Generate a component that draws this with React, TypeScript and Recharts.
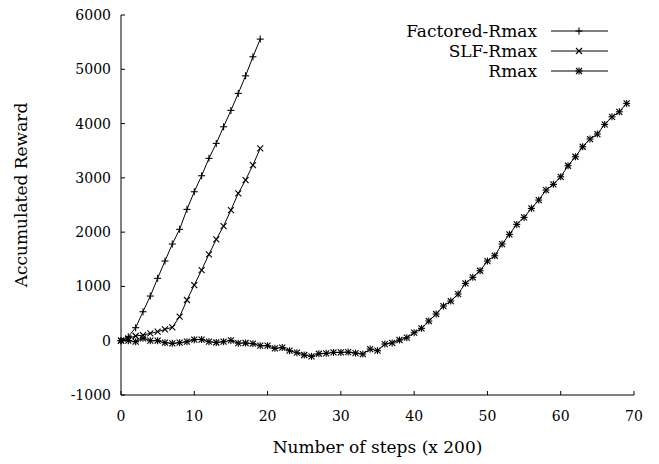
import React from "react";
import { Legend, Line, LineChart, XAxis, YAxis } from "recharts";

const FONT = "'DejaVu Serif', serif";

// accumulated reward per 200-step block
const factoredRmax = [
  0, 74, 240, 534, 823, 1149, 1468, 1781, 2052, 2420, 2744, 3039, 3359, 3635,
  3941, 4243, 4556, 4880, 5230, 5556,
];
const slfRmax = [
  0, 44, 87, 105, 136, 166, 210, 247, 442, 750, 1026, 1302, 1591, 1867, 2112,
  2407, 2714, 2960, 3236, 3543,
];
const rmax = [
  0, 0, -18, 44, 0, 0, -37, -48, -37, -18, 20, 22, -18, -33, -18, 5, -45, -42,
  -55, -92, -92, -141, -126, -184, -221, -263, -288, -240, -233, -215, -215,
  -210, -227, -245, -153, -184, -61, -40, 13, 55, 147, 228, 363, 492, 639, 731,
  860, 1057, 1168, 1289, 1468, 1565, 1781, 1959, 2143, 2272, 2438, 2591, 2775,
  2880, 3020, 3223, 3389, 3573, 3715, 3807, 3985, 4125, 4217, 4372,
];

const xTicks = [0, 10, 20, 30, 40, 50, 60, 70];
const yTicks = [-1000, 0, 1000, 2000, 3000, 4000, 5000, 6000];

const data = rmax.map((r, i) => ({
  step: i,
  factored: factoredRmax[i],
  slf: slfRmax[i],
  rmax: r,
}));

type Kind = "plus" | "cross" | "star";

const Marker = ({ kind, cx, cy }: { kind: Kind; cx: number; cy: number }) => {
  const s = 3;
  const plus = (
    <>
      <line x1={cx - s - 0.5} x2={cx + s + 0.5} y1={cy} y2={cy} />
      <line x1={cx} x2={cx} y1={cy - s - 0.5} y2={cy + s + 0.5} />
    </>
  );
  const cross = (
    <>
      <line x1={cx - s} x2={cx + s} y1={cy - s} y2={cy + s} />
      <line x1={cx - s} x2={cx + s} y1={cy + s} y2={cy - s} />
    </>
  );
  return (
    <g stroke="#000" strokeWidth={1.1}>
      {kind !== "cross" && plus}
      {kind !== "plus" && cross}
    </g>
  );
};

const dotFor = (kind: Kind) => (props: any) => {
  const { cx, cy, index } = props;
  if (cx == null || cy == null || isNaN(cy)) return <g key={index} />;
  return (
    <g key={index}>
      <Marker kind={kind} cx={cx} cy={cy} />
    </g>
  );
};

const BottomTick = ({ x, y, payload }: any) => (
  <g>
    <line x1={x} x2={x} y1={y} y2={y - 4} stroke="#000" />
    <text x={x} y={y + 26} textAnchor="middle" fontSize={14} fontFamily={FONT} fill="#000">
      {payload.value}
    </text>
  </g>
);

const TopTick = ({ x, y }: any) => (
  <line x1={x} x2={x} y1={y} y2={y + 4} stroke="#000" />
);

const LeftTick = ({ x, y, payload }: any) => (
  <g>
    <line x1={x} x2={x + 4} y1={y} y2={y} stroke="#000" />
    <text x={x - 10} y={y + 5} textAnchor="end" fontSize={14} fontFamily={FONT} fill="#000">
      {payload.value}
    </text>
  </g>
);

const RightTick = ({ x, y }: any) => (
  <line x1={x - 4} x2={x} y1={y} y2={y} stroke="#000" />
);

const YTitle = (props: any) => {
  const { x, y, height } = props.viewBox;
  const cx = x + 21;
  const cy = y + height / 2 - 10;
  return (
    <text
      x={cx}
      y={cy}
      transform={`rotate(-90 ${cx} ${cy})`}
      textAnchor="middle"
      dominantBaseline="central"
      fontSize={17}
      fontFamily={FONT}
      fill="#000"
    >
      Accumulated Reward
    </text>
  );
};

const XTitle = (props: any) => {
  const { x, y, width } = props.viewBox;
  return (
    <text x={x + width / 2} y={y + 58} textAnchor="middle" fontSize={17} fontFamily={FONT} fill="#000">
      Number of steps (x 200)
    </text>
  );
};

const legendItems: { name: string; kind: Kind }[] = [
  { name: "Factored-Rmax", kind: "plus" },
  { name: "SLF-Rmax", kind: "cross" },
  { name: "Rmax", kind: "star" },
];

const renderLegend = () => (
  <svg width={300} height={74}>
    {legendItems.map((item, i) => {
      const cy = 12 + i * 20;
      return (
        <g key={item.name}>
          <text x={207} y={cy + 6} textAnchor="end" fontSize={17} fontFamily={FONT} fill="#000">
            {item.name}
          </text>
          <line x1={221} x2={278} y1={cy} y2={cy} stroke="#000" />
          <Marker kind={item.kind} cx={249} cy={cy} />
        </g>
      );
    })}
  </svg>
);

export default function App() {
  return (
    <div style={{ position: "absolute", left: 0, top: 0, background: "#fff" }}>
      <LineChart
        width={659}
        height={464}
        data={data}
        margin={{ top: 15, right: 25, bottom: 0, left: 0 }}
      >
        <XAxis
          dataKey="step"
          type="number"
          domain={[0, 70]}
          ticks={xTicks}
          interval={0}
          height={69}
          tickSize={0}
          tickMargin={0}
          tickLine={false}
          axisLine={{ stroke: "#000" }}
          tick={BottomTick}
          label={XTitle}
        />
        <XAxis
          xAxisId="top"
          orientation="top"
          dataKey="step"
          type="number"
          domain={[0, 70]}
          ticks={xTicks}
          interval={0}
          height={0}
          tickSize={0}
          tickMargin={0}
          tickLine={false}
          axisLine={{ stroke: "#000" }}
          tick={TopTick}
        />
        <YAxis
          type="number"
          domain={[-1000, 6000]}
          ticks={yTicks}
          interval={0}
          width={121}
          tickSize={0}
          tickMargin={0}
          tickLine={false}
          axisLine={{ stroke: "#000" }}
          tick={LeftTick}
          label={YTitle}
        />
        <YAxis
          yAxisId="right"
          orientation="right"
          type="number"
          domain={[-1000, 6000]}
          ticks={yTicks}
          interval={0}
          width={0}
          tickSize={0}
          tickMargin={0}
          tickLine={false}
          axisLine={{ stroke: "#000" }}
          tick={RightTick}
        />
        <Legend
          layout="vertical"
          align="center"
          verticalAlign="middle"
          content={renderLegend}
          wrapperStyle={{ top: 19, left: 330, width: 300, height: 74 }}
        />
        <Line
          dataKey="factored"
          name="Factored-Rmax"
          stroke="#000"
          strokeWidth={1}
          dot={dotFor("plus")}
          activeDot={false}
          isAnimationActive={false}
        />
        <Line
          dataKey="slf"
          name="SLF-Rmax"
          stroke="#000"
          strokeWidth={1}
          dot={dotFor("cross")}
          activeDot={false}
          isAnimationActive={false}
        />
        <Line
          dataKey="rmax"
          name="Rmax"
          stroke="#000"
          strokeWidth={1}
          dot={dotFor("star")}
          activeDot={false}
          isAnimationActive={false}
        />
      </LineChart>
    </div>
  );
}
